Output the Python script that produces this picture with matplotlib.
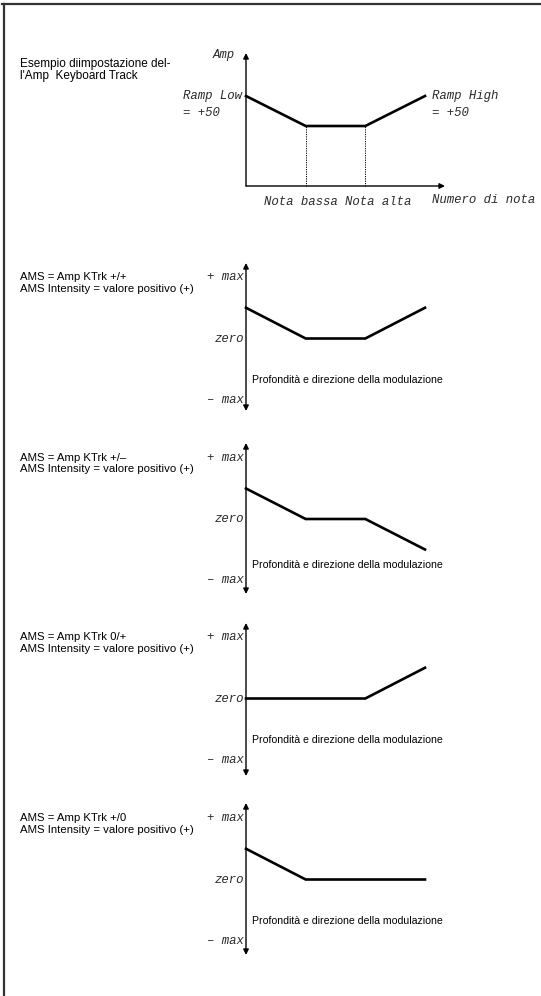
import matplotlib
matplotlib.use("Agg")
import matplotlib.pyplot as plt
from matplotlib.lines import Line2D

W, H = 541, 996

# ---------------- data ----------------
note_x = [0, 1, 2, 3]                 # start, Nota bassa, Nota alta, end
top_amp = [3, 2, 2, 3]                # Amp keyboard track example
top_title = ["Esempio diimpostazione del-", "l'Amp  Keyboard Track"]
top_labels_x = ["Nota bassa", "Nota alta", "Numero di nota"]

panel_titles = ["AMS = Amp KTrk +/+", "AMS = Amp KTrk +/\u2013",
                "AMS = Amp KTrk 0/+", "AMS = Amp KTrk +/0"]
panel_sub = "AMS Intensity = valore positivo (+)"
panel_values = [[0.5, 0, 0, 0.5],
                [0.5, 0, 0, -0.5],
                [0, 0, 0, 0.5],
                [0.5, 0, 0, 0]]
y_labels = ["+ max", "zero", "\u2013 max"]
depth_label = "Profondit\u00e0 e direzione della modulazione"

# ---------------- layout (pixels) ----------------
X0, X3 = 246, 425
UX = (X3 - X0) / 3.0
pmax = [277, 458, 637, 818]
pmin = [400, 580, 760, 941]
ptop = [263, 443, 623, 803]
pbot = [411, 594, 776, 955]
ptext = [380, 565, 740, 921]

MONO = dict(family="Liberation Mono", style="italic", size=8.9, color="#2a2a2a")
SANS = dict(family="Liberation Sans", size=7.6, color="black")
TITLE = dict(family="Liberation Sans", size=8.2, color="black")

fig = plt.figure(figsize=(W / 100, H / 100), dpi=100)
fig.patch.set_facecolor("white")

def add_ax(x0, x1, ytop, ybot):
    return fig.add_axes([x0 / W, 1 - ybot / H, (x1 - x0) / W, (ybot - ytop) / H])

arrow_kw = dict(arrowstyle="-|>", mutation_scale=8, lw=1.0, color="black",
                shrinkA=0, shrinkB=0)
darrow_kw = dict(arrowstyle="<|-|>", mutation_scale=8, lw=1.0, color="black",
                 shrinkA=0, shrinkB=0)

# border lines
fig.add_artist(Line2D([2 / W, 1], [1 - 4 / H, 1 - 4 / H], color="#333333", lw=1.6))
fig.add_artist(Line2D([3.5 / W, 3.5 / W], [0, 1 - 4 / H], color="#333333", lw=1.6))

# ---------------- top diagram ----------------
ax = add_ax(X0, X3, 96, 186)
ax.set_xlim(0, 3)
ax.set_ylim(0, 3)
ax.axis("off")
UY = 30.0
ax.annotate("", xy=(0, (186 - 53) / UY), xytext=(0, 0), arrowprops=arrow_kw,
            annotation_clip=False)
ax.annotate("", xy=((445 - X0) / UX, 0), xytext=(0, 0), arrowprops=arrow_kw,
            annotation_clip=False)
ax.plot(note_x, top_amp, color="black", lw=1.9, clip_on=False,
        solid_joinstyle="miter")
for xi in (1, 2):
    ax.plot([note_x[xi], note_x[xi]], [0, top_amp[xi]], color="black", lw=0.7,
            ls=(0, (1.2, 1.2)), clip_on=False)
ax.text((235 - X0) / UX, (186 - 55) / UY, "Amp", ha="right", va="center", **MONO)
ax.text((183 - X0) / UX, top_amp[0], "Ramp Low", ha="left", va="center", **MONO)
ax.text((183 - X0) / UX, (186 - 113) / UY, "= +50", ha="left", va="center", **MONO)
ax.text((432 - X0) / UX, top_amp[3], "Ramp High", ha="left", va="center", **MONO)
ax.text((432 - X0) / UX, (186 - 113) / UY, "= +50", ha="left", va="center", **MONO)
ax.text((264 - X0) / UX, (186 - 202) / UY, top_labels_x[0], ha="left", va="center", **MONO)
ax.text((345 - X0) / UX, (186 - 202) / UY, top_labels_x[1], ha="left", va="center", **MONO)
ax.text((432 - X0) / UX, (186 - 200) / UY, top_labels_x[2], ha="left", va="center", **MONO)
fig.text(20 / W, 1 - 64 / H, top_title[0], ha="left", va="center",
         family="Liberation Sans", size=8.5)
fig.text(20 / W, 1 - 76 / H, top_title[1], ha="left", va="center",
         family="Liberation Sans", size=8.5)

# ---------------- modulation panels ----------------
for i, vals in enumerate(panel_values):
    ax = add_ax(X0, X3, pmax[i], pmin[i])
    ax.set_xlim(0, 3)
    ax.set_ylim(-1, 1)
    ax.axis("off")
    uy = (pmin[i] - pmax[i]) / 2.0
    ytop = 1 + (pmax[i] - ptop[i]) / uy
    ybot = -1 - (pbot[i] - pmin[i]) / uy
    ax.annotate("", xy=(0, ytop), xytext=(0, ybot), arrowprops=darrow_kw,
                annotation_clip=False)
    ax.plot(note_x, vals, color="black", lw=1.9, clip_on=False,
            solid_joinstyle="miter")
    for lab, yv in zip(y_labels, (1, 0, -1)):
        ax.annotate(lab, xy=(0, yv), xytext=(-2, 0), textcoords="offset pixels",
                    ha="right", va="center", **MONO)
    ax.text(6 / UX, 1 - (ptext[i] - pmax[i]) / uy, depth_label, ha="left",
            va="center", **SANS)
    fig.text(20 / W, 1 - pmax[i] / H, panel_titles[i], ha="left", va="center", **TITLE)
    fig.text(20 / W, 1 - (pmax[i] + 11.5) / H, panel_sub, ha="left", va="center", **TITLE)

fig.savefig("out.png", dpi=100, facecolor="white")
